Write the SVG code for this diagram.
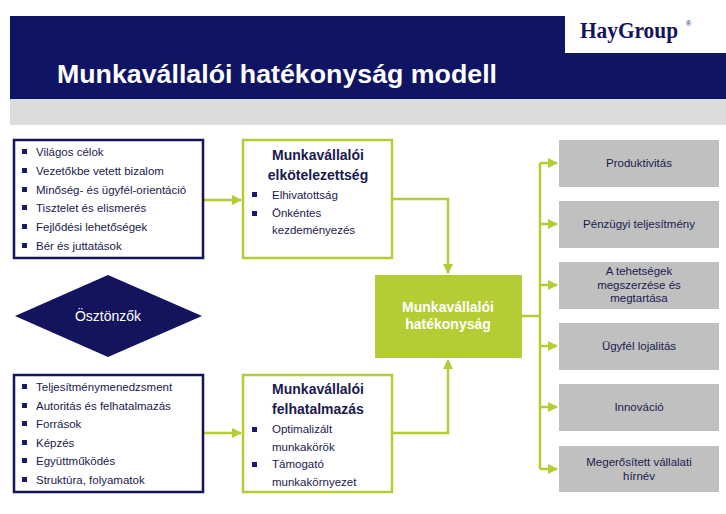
<svg xmlns="http://www.w3.org/2000/svg" width="726" height="514" viewBox="0 0 726 514">
<defs>
<style>
text{font-family:"Liberation Sans",Arial,sans-serif}
.li{font-size:11.5px;fill:#1a1a4e}
.bul{fill:#1a1a6e}
.t{font-size:14px;font-weight:bold;fill:#1a1a4e;text-anchor:middle}
.o{font-size:11.5px;fill:#1a1a4e;text-anchor:middle}
.blue{fill:#fff;stroke:#13135e;stroke-width:2.5}
.grn{fill:#fff;stroke:#b5cc34;stroke-width:2.5}
.gry{fill:#c0c0c0}
.c{fill:none;stroke:#b5cc34;stroke-width:2.5}
</style>
<marker id="a" viewBox="0 0 10 10" refX="9" refY="5" markerWidth="4" markerHeight="4" orient="auto"><path d="M0,0L10,5L0,10z" fill="#b5cc34"/></marker>
</defs>
<rect width="726" height="514" fill="#fff"/>
<rect x="10" y="16" width="716" height="83" fill="#0f1464"/>
<rect x="10" y="99" width="716" height="26" fill="#dcdcdc"/>
<rect x="565" y="16" width="161" height="37" fill="#fff"/>
<text x="580" y="38" textLength="98" lengthAdjust="spacingAndGlyphs" style="font-family:'Liberation Serif',serif;font-size:23px;font-weight:bold;fill:#13135e">HayGroup</text><text x="686" y="26" style="font-size:7px;fill:#13135e">®</text>
<text x="57" y="83" textLength="440" lengthAdjust="spacingAndGlyphs" style="font-size:26px;font-weight:bold;fill:#fff">Munkavállalói hatékonyság modell</text>
<g id="connectors">
<path class="c" d="M203,200H241" marker-end="url(#a)"/>
<path class="c" d="M203,433H241" marker-end="url(#a)"/>
<path class="c" d="M392,199H448V273" marker-end="url(#a)"/>
<path class="c" d="M392,433H448V360" marker-end="url(#a)"/>
<path class="c" d="M522,316H540M540,163V469"/>
<path class="c" d="M540,163H557" marker-end="url(#a)"/>
<path class="c" d="M540,224H557" marker-end="url(#a)"/>
<path class="c" d="M540,285H557" marker-end="url(#a)"/>
<path class="c" d="M540,346H557" marker-end="url(#a)"/>
<path class="c" d="M540,407H557" marker-end="url(#a)"/>
<path class="c" d="M540,469H557" marker-end="url(#a)"/>
</g>
<g id="drivers1">
<rect class="blue" x="14" y="140" width="189" height="118"/>
<g class="bul"><rect x="22" y="149" width="5" height="5"/><rect x="22" y="168" width="5" height="5"/><rect x="22" y="187" width="5" height="5"/><rect x="22" y="205" width="5" height="5"/><rect x="22" y="224" width="5" height="5"/><rect x="22" y="243" width="5" height="5"/></g>
<text class="li" x="36" y="156">Világos célok</text>
<text class="li" x="36" y="175">Vezetőkbe vetett bizalom</text>
<text class="li" x="36" y="194">Minőség- és ügyfél-orientáció</text>
<text class="li" x="36" y="212">Tisztelet  és elismerés</text>
<text class="li" x="36" y="231">Fejlődési lehetőségek</text>
<text class="li" x="36" y="250">Bér és juttatások</text>
</g>
<g id="osztonzok">
<polygon points="15,316 108,275 202,316 108,357" fill="#13135e"/>
<text x="108" y="321" style="font-size:14px;fill:#fff;text-anchor:middle">Ösztönzők</text>
</g>
<g id="drivers2">
<rect class="blue" x="14" y="375" width="189" height="117"/>
<g class="bul"><rect x="22" y="384" width="5" height="5"/><rect x="22" y="403" width="5" height="5"/><rect x="22" y="421" width="5" height="5"/><rect x="22" y="440" width="5" height="5"/><rect x="22" y="458" width="5" height="5"/><rect x="22" y="477" width="5" height="5"/></g>
<text class="li" x="36" y="391">Teljesítménymenedzsment</text>
<text class="li" x="36" y="410">Autoritás és  felhatalmazás</text>
<text class="li" x="36" y="428">Források</text>
<text class="li" x="36" y="447">Képzés</text>
<text class="li" x="36" y="465">Együttműködés</text>
<text class="li" x="36" y="484">Struktúra, folyamatok</text>
</g>
<g id="elkot">
<rect class="grn" x="243" y="140" width="149" height="118"/>
<text class="t" x="318" y="160">Munkavállalói</text>
<text class="t" x="318" y="180">elkötelezettség</text>
<g class="bul"><rect x="252" y="192" width="5" height="5"/><rect x="252" y="211" width="5" height="5"/></g>
<text class="li" x="272" y="199">Elhivatottság</text>
<text class="li" x="272" y="217">Önkéntes</text>
<text class="li" x="272" y="234">kezdeményezés</text>
</g>
<g id="felhat">
<rect class="grn" x="243" y="375" width="149" height="117"/>
<text class="t" x="318" y="394">Munkavállalói</text>
<text class="t" x="318" y="414">felhatalmazás</text>
<g class="bul"><rect x="252" y="427" width="5" height="5"/><rect x="252" y="462" width="5" height="5"/></g>
<text class="li" x="272" y="433">Optimalizált</text>
<text class="li" x="272" y="451">munkakörök</text>
<text class="li" x="272" y="468">Támogató</text>
<text class="li" x="272" y="486">munkakörnyezet</text>
</g>
<g id="center">
<rect x="375" y="275" width="147" height="83" fill="#b5cc34"/>
<text class="t" x="448" y="312" style="fill:#fff">Munkavállalói</text>
<text class="t" x="448" y="329" style="fill:#fff">hatékonyság</text>
</g>
<g id="o1"><rect class="gry" x="559" y="140" width="160" height="47"/><text class="o" x="639" y="167">Produktivitás</text></g>
<g id="o2"><rect class="gry" x="559" y="201" width="160" height="47"/><text class="o" x="639" y="228">Pénzügyi teljesítmény</text></g>
<g id="o3"><rect class="gry" x="559" y="262" width="160" height="47"/><text class="o" x="639" y="275">A tehetségek</text><text class="o" x="639" y="289">megszerzése és</text><text class="o" x="639" y="302">megtartása</text></g>
<g id="o4"><rect class="gry" x="559" y="323" width="160" height="47"/><text class="o" x="639" y="350">Ügyfél lojalitás</text></g>
<g id="o5"><rect class="gry" x="559" y="384" width="160" height="47"/><text class="o" x="639" y="411">Innováció</text></g>
<g id="o6"><rect class="gry" x="559" y="446" width="160" height="46"/><text class="o" x="639" y="466">Megerősített vállalati</text><text class="o" x="639" y="480">hírnév</text></g>
</svg>
